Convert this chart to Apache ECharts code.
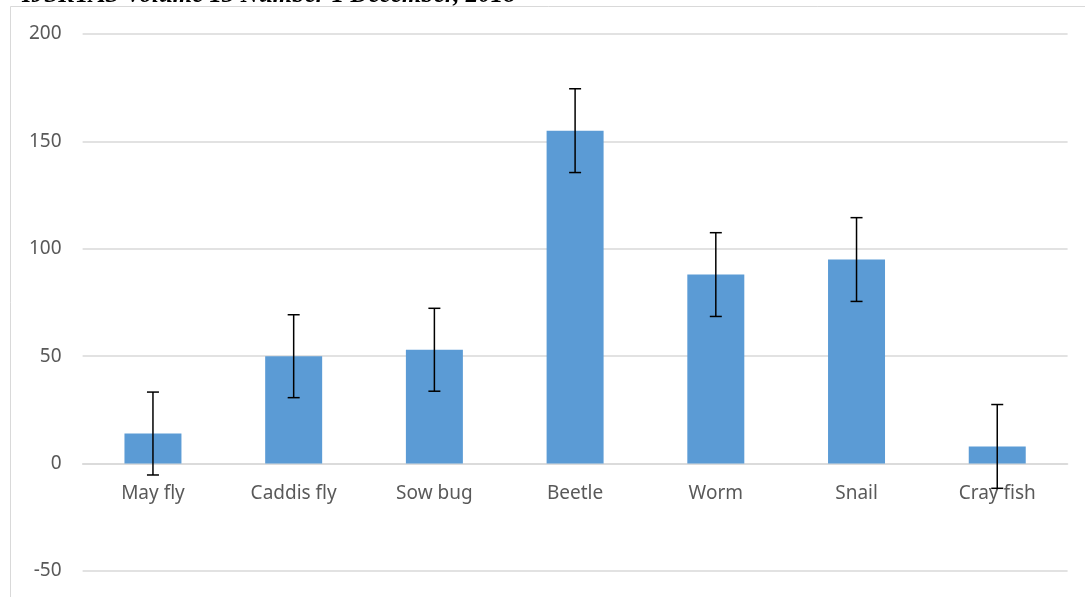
<!DOCTYPE html>
<html>
<head>
<meta charset="utf-8">
<script src="https://cdn.jsdelivr.net/npm/echarts@6/dist/echarts.min.js"></script>
<style>html,body{margin:0;padding:0;background:#fff;}#c{width:1085px;height:597px;}</style>
</head>
<body>
<div id="c"></div>
<script>
var categories = ['May fly', 'Caddis fly', 'Sow bug', 'Beetle', 'Worm', 'Snail', 'Cray fish'];
var values = [14, 50, 53, 155, 88, 95, 8];
var errors = [19.3, 19.3, 19.3, 19.5, 19.5, 19.5, 19.5];
var yTicks = { min: -50, max: 200, interval: 50 };

var chart = echarts.init(document.getElementById('c'));
var errData = values.map(function (v, i) { return [i, v - errors[i], v + errors[i]]; });
var labelData = categories.map(function (c, i) { return [i, 0, c]; });
chart.setOption({
  animation: false,
  backgroundColor: '#fff',
  grid: { left: 82.6, right: 17.4, top: 34, bottom: 26, containLabel: false, outerBoundsMode: 'none' },
  graphic: [
    { type: 'rect', shape: { x: 10.5, y: 6.5, width: 1100, height: 620 },
      style: { fill: 'none', stroke: '#d9d9d9', lineWidth: 1 }, silent: true },
    { type: 'text', left: 22, top: -17,
      style: { text: 'IJSRTAS Volume 13 Number 1 December, 2018', fill: '#000',
        font: 'italic bold 25px "Liberation Serif", serif' } }
  ],
  xAxis: {
    type: 'category', data: categories,
    axisLine: { onZero: true, lineStyle: { color: '#d9d9d9', width: 1.5 } },
    axisTick: { show: false },
    axisLabel: { show: false }
  },
  yAxis: {
    type: 'value', min: yTicks.min, max: yTicks.max, interval: yTicks.interval,
    axisLine: { show: false }, axisTick: { show: false },
    splitLine: { lineStyle: { color: '#d9d9d9', width: 1.5 } },
    axisLabel: { color: '#595959', fontSize: 19, fontFamily: 'Noto Sans', margin: 21 }
  },
  series: [
    { type: 'bar', data: values, barWidth: '40.5%', itemStyle: { color: '#5b9bd5' }, z: 2 },
    { type: 'custom', data: labelData, z: 5, silent: true,
      renderItem: function (params, api) {
        var p = api.coord([api.value(0), 0]);
        return { type: 'text', x: p[0], y: p[1] + 30,
          style: { text: categories[params.dataIndex], fill: '#595959',
            font: '19px "Noto Sans"', align: 'center', verticalAlign: 'middle' } };
      }
    },
    { type: 'custom', data: errData, z: 10,
      renderItem: function (params, api) {
        var x = api.value(0);
        var lo = api.coord([x, api.value(1)]);
        var hi = api.coord([x, api.value(2)]);
        var w = 6;
        var st = { stroke: '#000', lineWidth: 1.5 };
        return { type: 'group', children: [
          { type: 'line', shape: { x1: lo[0], y1: lo[1], x2: hi[0], y2: hi[1] }, style: st },
          { type: 'line', shape: { x1: hi[0] - w, y1: hi[1], x2: hi[0] + w, y2: hi[1] }, style: st },
          { type: 'line', shape: { x1: lo[0] - w, y1: lo[1], x2: lo[0] + w, y2: lo[1] }, style: st }
        ] };
      }
    }
  ]
});
</script>
</body>
</html>
